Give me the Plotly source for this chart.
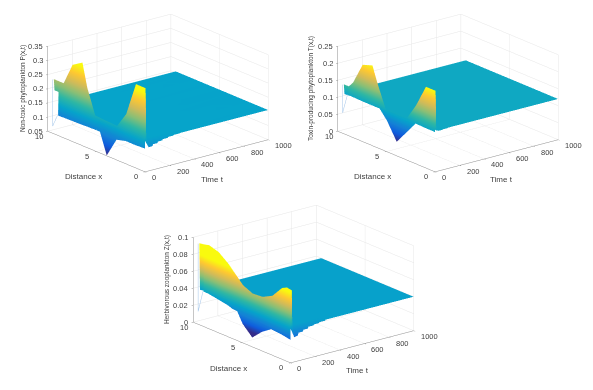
import math
import plotly.graph_objects as go

nan = float("nan")
DIST = [0, 0.5, 1, 2, 3, 4, 5, 6, 6.5, 7.5, 8.5, 9, 9.5]
EARLY_T = [0, 5, 10, 15, 30]
LATE_T = [60, 65, 100, 105, 140, 145, 185, 190, 230, 235, 280, 285, 1000]
TIME_TICKS = [0, 200, 400, 600, 800, 1000]
DIST_TICKS = [0, 5, 10]

P_EARLY = [
    [.132, .131, .13, .13, .128, .125, .125, .124, .123, .122, .121, .12, nan],
    [.345, .345, .345, .225, .12, .05, .155, .26, .342, .32, .19, .12, nan],
    [.168, .168, .168, .168, .168, .17, .172, .175, .2, .23, .24, .24, .24],
    [.16, .16, .16, .16, .16, .16, .16, .16, .17, .19, .2, .2, .2],
    [.133, .155, .155, .155, .155, .155, .155, .155, .155, .155, nan, nan, nan],
]
P_PLANE = [.155, .155, .155, .155, .155, .155, .155, .155, .155, .155, .155, .155, .155]
P_EDGE = [.134, .14, .14, .145, .145, .149, .149, .152, .152, .154, .154, .155, .155]
P_LINE = [.075, .24, .075, .12]
P_ZTICKS = [.05, .1, .15, .2, .25, .3, .35]

T_EARLY = [
    [.117, .117, .117, .118, .118, .118, .118, .118, .118, .118, .119, .12, nan],
    [.238, .238, .238, .172, .08, .04, .09, .19, .235, .225, .16, .12, nan],
    [.122, .122, .122, .122, .122, .122, .122, .122, .125, .132, .14, .143, .143],
    [.12, .12, .12, .12, .12, .12, .12, .12, .12, .12, .118, .115, .114],
    [.118, .12, .12, .12, .12, .12, .12, .12, .12, .12, .12, .12, .12],
]
T_PLANE = [.12, .12, .12, .12, .12, .12, .12, .12, .12, .12, .12, .12, .12]
T_EDGE = [.118, .119, .119, .12, .12, .12, .12, .12, .12, .12, .12, .12, .12]
T_LINE = [.06, .143, .06, .12]
T_ZTICKS = [0, .05, .1, .15, .2, .25]

Z_EARLY = [
    [.027, .028, .029, .03, .031, .033, .034, .035, .037, .039, .041, .041, nan],
    [.07, .07, .067, .05, .022, .0105, .022, .044, .055, .066, .052, .041, nan],
    [.085, .086, .083, .069, .063, .062, .067, .079, .085, .094, .0975, .096, .095],
    [.042, .042, .042, .042, .042, .042, .042, .042, .042, .042, .042, .041, .04],
    [.029, .04, .04, .04, .04, .04, .04, .04, .04, .04, .04, .04, .04],
]
Z_PLANE = [.04, .04, .04, .04, .04, .04, .04, .04, .04, .04, .04, .04, .04]
Z_EDGE = [.03, .033, .033, .035, .035, .037, .037, .038, .038, .039, .039, .04, .04]
Z_LINE = [.015, .095, .015, .041]
Z_ZTICKS = [0, .02, .04, .06, .08, .1]

PARULA = [[0, "#352A87"], [.125, "#0F5CDD"], [.25, "#1481D6"], [.375, "#06A4CA"],
          [.5, "#2EB7A4"], [.625, "#87BF77"], [.75, "#D1BB59"], [.875, "#FEC832"], [1, "#F9FB0E"]]

INK = "#404040"
FONT = "Liberation Sans"
W, H = 593, 390
PAGE_OFFSET = 8  # the page's body margin
PX_PER_UNIT = 94.0


def grid(early, plane, edge):
    rows = [list(r) for r in early]
    for e in edge:
        rows.append([e] + plane[1:])
    return rows


def mesh_of(rows, times, dist):
    """Vertices and triangles of the gridded surface, leaving out cells with a gap."""
    n = len(dist)
    xs, ys, zs, ii, jj, kk = [], [], [], [], [], []
    for ti, row in enumerate(rows):
        for di, v in enumerate(row):
            xs.append(times[ti])
            ys.append(dist[di])
            zs.append(0 if math.isnan(v) else v)
    for ti in range(len(rows) - 1):
        for di in range(n - 1):
            c = [rows[ti][di], rows[ti][di + 1], rows[ti + 1][di], rows[ti + 1][di + 1]]
            if any(math.isnan(v) for v in c):
                continue
            a, b = ti * n + di, ti * n + di + 1
            d, e = (ti + 1) * n + di, (ti + 1) * n + di + 1
            ii += [a, a]
            jj += [b, e]
            kk += [e, d]
    return xs, ys, zs, ii, jj, kk


panels = [
    ("scene", P_EARLY, P_PLANE, P_EDGE, P_LINE, "Non-toxic phytoplankton P(x,t)", [.05, .35], P_ZTICKS, [0, .533], [.518, 1],
     (212, 179), (83, 176), (23, 89), (.05, .33), (-8, -9)),
    ("scene2", T_EARLY, T_PLANE, T_EDGE, T_LINE, "Toxin-producing phytoplankton T(x,t)", [0, .25], T_ZTICKS, [.511, 1], [.518, 1],
     (501, 179), (372, 176), (311, 89), (.04, .238), (-8, -9)),
    ("scene3", Z_EARLY, Z_PLANE, Z_EDGE, Z_LINE, "Herbivorous zooplankton Z(x,t)", [0, .1], Z_ZTICKS, [.256, .762], [.028, .51],
     (357, 370), (228, 368), (167, 280), (.016, .082), (-6.5, -9)),
]


def note(text, pos, size=8, angle=0):
    return dict(text=text, x=(pos[0] - PAGE_OFFSET) / W, y=1 - (pos[1] - PAGE_OFFSET) / H,
                xref="paper", yref="paper", showarrow=False,
                textangle=angle, xanchor="center", yanchor="middle",
                font=dict(size=size, color=INK, family=FONT))


def tick_note(x, y, z, text, anchor, xshift, yshift):
    return dict(x=x, y=y, z=z, text=text, showarrow=False, xanchor=anchor, yanchor="middle",
                xshift=xshift, yshift=yshift, font=dict(size=7.5, color=INK, family=FONT))


fig = go.Figure()
layout = {}
notes = []
for sid, early, plane, edge, line, ztitle, zr, zticks, dx, dy, tpos, dpos, zpos, crange, shift in panels:
    xs, ys, zs, ii, jj, kk = mesh_of(grid(early, plane, edge), EARLY_T + LATE_T, DIST)
    fig.add_trace(go.Mesh3d(
        x=xs, y=ys, z=zs, i=ii, j=jj, k=kk, intensity=zs,
        colorscale=PARULA, cmin=crange[0], cmax=crange[1], showscale=False, scene=sid, hoverinfo="skip",
        flatshading=False,
        lighting=dict(ambient=1, diffuse=0, specular=0, fresnel=0, roughness=1),
    ))
    fig.add_trace(go.Scatter3d(
        x=[0, 0, 0, 0], y=[DIST[-1], DIST[-1], DIST[-1], DIST[-2]], z=line,
        mode="lines", line=dict(color="#A4C6EA", width=1), scene=sid, hoverinfo="skip", showlegend=False,
    ))
    notes += [note("Time t", tpos), note("Distance x", dpos), note(ztitle, zpos, 6.5, -90)]

    def ax(rng, vals):
        return dict(
            title=dict(text=""), showticklabels=False, tickmode="array", tickvals=vals,
            range=rng, showbackground=False, showgrid=True, gridcolor="#E6E6E6", gridwidth=1,
            zeroline=False, showline=True, linecolor="#8C8C8C", linewidth=1, ticks="outside", ticklen=2,
            tickcolor="#8C8C8C", showspikes=False,
        )

    scene_notes = []
    for t in TIME_TICKS:
        scene_notes.append(tick_note(t, 0, zr[0], str(t), "left", 5, -6))
    for d in DIST_TICKS:
        scene_notes.append(tick_note(0, d, zr[0], str(d), "center", -9, -5))
    for v in zticks:
        scene_notes.append(tick_note(0, 10, v, f"{v:g}", "right", -3, 0))

    # screen shift of the whole cube expressed as a camera pan; the eye stays far off so the near plane cuts nothing
    sx = -shift[0] / PX_PER_UNIT
    sy = shift[1] / PX_PER_UNIT / .943
    cx, cy, cz = sx * .785, sx * -.619, sy
    layout[sid] = dict(
        domain=dict(x=dx, y=dy),
        xaxis=ax([0, 1000], TIME_TICKS),
        yaxis=ax([0, 10], DIST_TICKS),
        zaxis=ax(zr, zticks),
        annotations=scene_notes,
        aspectmode="manual", aspectratio=dict(x=1.67, y=1.67, z=.957),
        camera=dict(projection=dict(type="orthographic"), up=dict(x=0, y=0, z=1),
                    center=dict(x=cx, y=cy, z=cz), eye=dict(x=-2.1 + cx, y=-2.658 + cy, z=1.185 + cz)),
    )

fig.update_layout(width=W, height=H, margin=dict(l=0, r=0, t=0, b=0),
                  paper_bgcolor="white", showlegend=False, annotations=notes, **layout)
fig.write_html("out.html")
